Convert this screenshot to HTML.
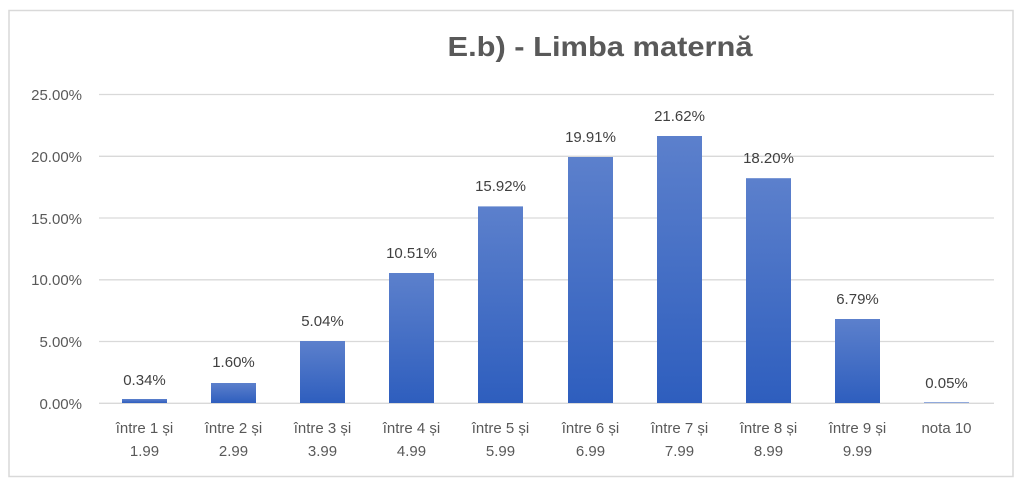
<!DOCTYPE html>
<html><head><meta charset="utf-8"><style>
body{margin:0;background:#fff;}
svg{display:block;font-family:"Liberation Sans",sans-serif;}
</style></head><body>
<svg width="1024" height="486" viewBox="0 0 1024 486" xmlns="http://www.w3.org/2000/svg">
<defs><linearGradient id="g" x1="0" y1="0" x2="0" y2="1"><stop offset="0" stop-color="#5c80cc"/><stop offset="1" stop-color="#2e5ebe"/></linearGradient></defs>
<rect x="9" y="10.5" width="1004" height="466" fill="#fff" stroke="#d9d9d9" stroke-width="1.5"/>
<text x="600" y="56" text-anchor="middle" font-size="28" font-weight="bold" fill="#595959" textLength="305" lengthAdjust="spacingAndGlyphs">E.b) - Limba maternă</text>
<g stroke="#d9d9d9" stroke-width="1.3">
<line x1="99" x2="994" y1="94.5" y2="94.5"/><line x1="99" x2="994" y1="156.3" y2="156.3"/><line x1="99" x2="994" y1="218" y2="218"/><line x1="99" x2="994" y1="279.8" y2="279.8"/><line x1="99" x2="994" y1="341.5" y2="341.5"/><line x1="99" x2="994" y1="403.3" y2="403.3"/>
</g>
<g font-size="15" fill="#595959" text-anchor="end">
<text x="82" y="100">25.00%</text><text x="82" y="162">20.00%</text><text x="82" y="224">15.00%</text><text x="82" y="285">10.00%</text><text x="82" y="347">5.00%</text><text x="82" y="409">0.00%</text>
</g>
<g fill="url(#g)">
<rect x="122" y="399" width="45" height="4"/>
<rect x="211" y="383" width="45" height="20"/>
<rect x="300" y="341" width="45" height="62"/>
<rect x="389" y="273" width="45" height="130"/>
<rect x="478" y="206.4" width="45" height="196.6"/>
<rect x="568" y="157" width="45" height="246"/>
<rect x="657" y="136" width="45" height="267"/>
<rect x="746" y="178.2" width="45" height="224.8"/>
<rect x="835" y="319" width="45" height="84"/>
<rect x="924" y="402.4" width="45" height="0.6"/>
</g>
<g font-size="15" fill="#404040" text-anchor="middle">
<text x="144.5" y="385">0.34%</text><text x="233.5" y="367">1.60%</text><text x="322.5" y="326">5.04%</text><text x="411.5" y="258">10.51%</text><text x="500.5" y="191">15.92%</text><text x="590.5" y="142">19.91%</text><text x="679.5" y="121">21.62%</text><text x="768.5" y="163">18.20%</text><text x="857.5" y="304">6.79%</text><text x="946.5" y="388">0.05%</text>
</g>
<g font-size="15" fill="#595959" text-anchor="middle">
<text x="144.5" y="433">între 1 și</text><text x="144.5" y="456">1.99</text>
<text x="233.5" y="433">între 2 și</text><text x="233.5" y="456">2.99</text>
<text x="322.5" y="433">între 3 și</text><text x="322.5" y="456">3.99</text>
<text x="411.5" y="433">între 4 și</text><text x="411.5" y="456">4.99</text>
<text x="500.5" y="433">între 5 și</text><text x="500.5" y="456">5.99</text>
<text x="590.5" y="433">între 6 și</text><text x="590.5" y="456">6.99</text>
<text x="679.5" y="433">între 7 și</text><text x="679.5" y="456">7.99</text>
<text x="768.5" y="433">între 8 și</text><text x="768.5" y="456">8.99</text>
<text x="857.5" y="433">între 9 și</text><text x="857.5" y="456">9.99</text>
<text x="946.5" y="433">nota 10</text>
</g>
</svg>
</body></html>
